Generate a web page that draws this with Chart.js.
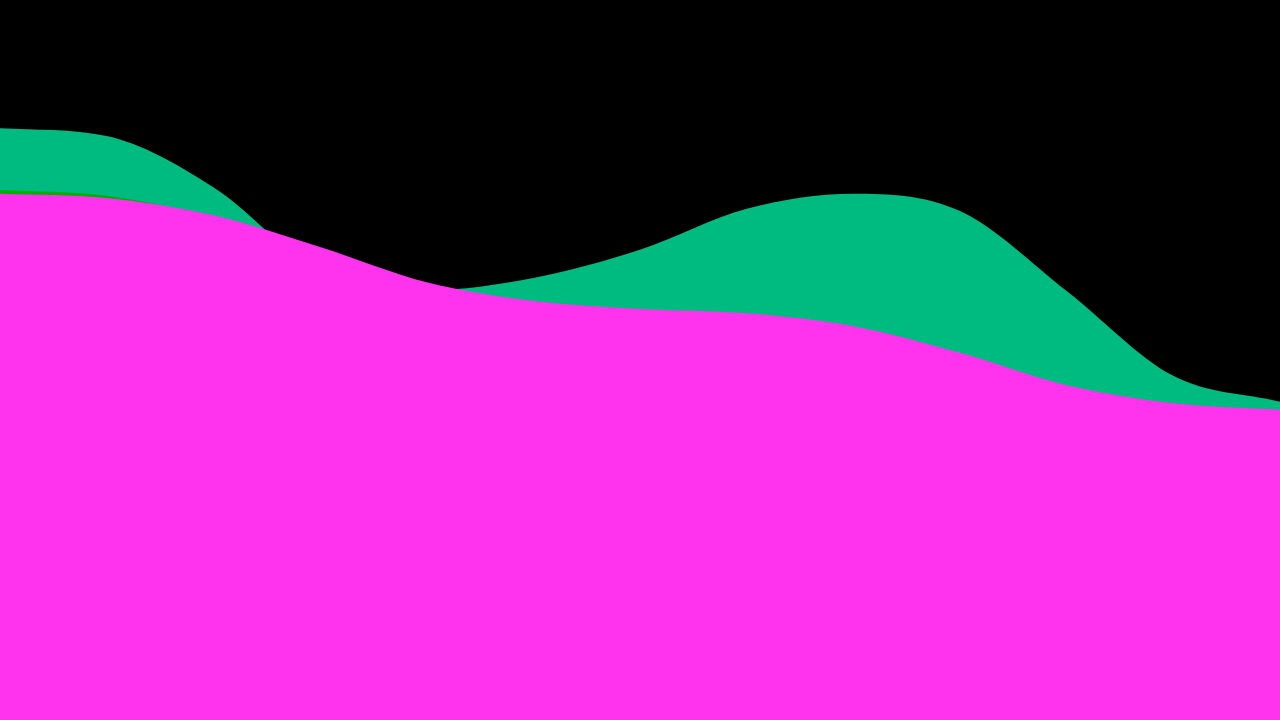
<!DOCTYPE html>
<html>
<head>
<meta charset="utf-8">
<title>Layered areas</title>
<script src="https://cdn.jsdelivr.net/npm/chart.js@4"></script>
<style>
  html, body { margin: 0; padding: 0; background: #000; overflow: hidden; }
  #wrap { width: 1280px; height: 720px; position: relative; }
</style>
</head>
<body>
<div id="wrap"><canvas id="chart"></canvas></div>
<script>
// categories (13 evenly spaced steps across the width)
const labels = ['1', '2', '3', '4', '5', '6', '7', '8', '9', '10', '11', '12', '13'];

// series values (y axis 0..100)
const tealValues    = [82.2, 81.1, 74.0, 62.4, 59.7, 61.4, 65.3, 71.0, 73.1, 70.7, 59.6, 47.8, 44.2];
const greenValues   = [73.6, 72.8, 69.7, 64.6, 59.7, 57.1, 56.0, 55.4, 53.6, 49.9, 45.4, 42.9, 41.9];
const magentaValues = [73.1, 72.5, 70.1, 65.7, 60.8, 58.2, 57.1, 56.5, 54.7, 51.0, 46.5, 44.0, 43.1];

const yMin = 0;
const yMax = 100;

function area(data, color, order) {
    return {
        data: data,
        backgroundColor: color,
        borderColor: color,
        borderWidth: 0,
        pointRadius: 0,
        fill: 'origin',
        cubicInterpolationMode: 'monotone',
        order: order
    };
}

window.onload = () => {
    const ctx = document.getElementById('chart').getContext('2d');
    new Chart(ctx, {
        type: 'line',
        data: {
            labels: labels,
            datasets: [
                area(magentaValues, '#ff33ee', 0),
                area(greenValues, '#00b000', 1),
                area(tealValues, '#00bb80', 2)
            ]
        },
        options: {
            responsive: true,
            maintainAspectRatio: false,
            animation: false,
            layout: { padding: 0 },
            plugins: { legend: { display: false }, tooltip: { enabled: false } },
            scales: {
                x: { display: false, offset: false },
                y: { display: false, min: yMin, max: yMax }
            }
        }
    });
};
</script>
</body>
</html>
